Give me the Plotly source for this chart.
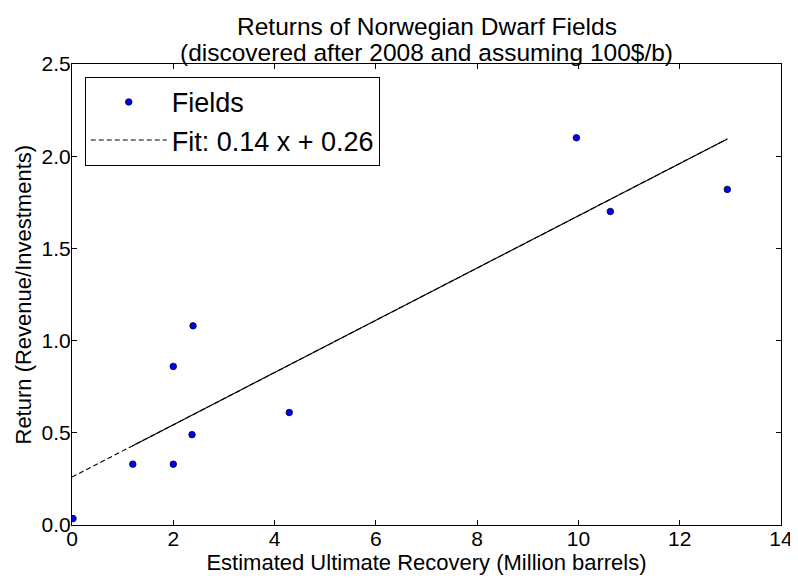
import plotly.graph_objects as go

# Data
eur = [0.02, 1.20, 2.00, 2.00, 2.37, 2.39, 4.29, 9.96, 10.63, 12.94]
ret = [0.035, 0.33, 0.33, 0.86, 0.49, 1.08, 0.61, 2.10, 1.70, 1.82]
fit_slope = 0.1417
fit_intercept = 0.26
fit_x_dashed = [0.0, 12.94]
fit_x_solid = [1.20, 12.94]
x_ticks = [0, 2, 4, 6, 8, 10, 12, 14]
y_ticks = [0.0, 0.5, 1.0, 1.5, 2.0, 2.5]
title_lines = ["Returns of Norwegian Dwarf Fields",
               "(discovered after 2008 and assuming 100$/b)"]
x_title = "Estimated Ultimate Recovery (Million barrels)"
y_title = "Return (Revenue/Investments)"

font = "Liberation Sans, Arial, sans-serif"

fig = go.Figure()
fig.add_trace(go.Scatter(
    x=eur, y=ret, mode="markers", name="Fields", legendgroup="a",
    marker=dict(color="#0000ff", size=6.5, line=dict(color="black", width=0.8)),
))
fig.add_trace(go.Scatter(
    x=fit_x_dashed, y=[fit_slope * v + fit_intercept for v in fit_x_dashed],
    mode="lines", name="Fit: 0.14 x + 0.26", legendgroup="b",
    line=dict(color="black", width=1.1, dash="5px,3px"),
))
fig.add_trace(go.Scatter(
    x=fit_x_solid, y=[fit_slope * v + fit_intercept for v in fit_x_solid],
    mode="lines", showlegend=False, hoverinfo="skip", legendgroup="b",
    line=dict(color="black", width=1.1),
))

axis_common = dict(
    showgrid=False, zeroline=False, showline=True, linecolor="black",
    linewidth=1, mirror="ticks", ticks="inside", ticklen=5, tickcolor="black",
    tickfont=dict(family=font, size=21, color="black"), automargin=False,
)

fig.update_layout(
    width=790, height=570,
    margin=dict(l=64, r=17, t=56, b=53),
    paper_bgcolor="white", plot_bgcolor="white",
    xaxis=dict(range=[0, 14], tickvals=x_ticks, ticktext=[str(v) for v in x_ticks],
               ticklabelstandoff=-5,
               title=dict(text=x_title,
                          font=dict(family=font, size=22, color="black"), standoff=0),
               **axis_common),
    yaxis=dict(range=[0, 2.5], tickvals=y_ticks, ticktext=[f"{v:.1f}" for v in y_ticks],
               ticklabelstandoff=-4,
               **axis_common),
    legend=dict(
        x=0.018, y=0.972, xanchor="left", yanchor="top",
        bordercolor="black", borderwidth=1, bgcolor="white",
        font=dict(family=font, size=27, color="black"),
        tracegroupgap=0, itemwidth=76,
    ),
    showlegend=True,
    annotations=[
        dict(text=title_lines[0], xref="paper", yref="paper", x=0.5, y=1,
             xanchor="center", yanchor="bottom", yshift=22, showarrow=False,
             font=dict(family=font, size=24.5, color="black")),
        dict(text=title_lines[1], xref="paper", yref="paper", x=0.5, y=1,
             xanchor="center", yanchor="bottom", yshift=-4, showarrow=False,
             font=dict(family=font, size=24.5, color="black")),
        dict(text=y_title, xref="paper", yref="paper", x=0, y=0.5,
             xanchor="center", yanchor="middle", xshift=-49, textangle=-90,
             showarrow=False, font=dict(family=font, size=22, color="black")),
    ],
)

fig.write_html("out.html")
